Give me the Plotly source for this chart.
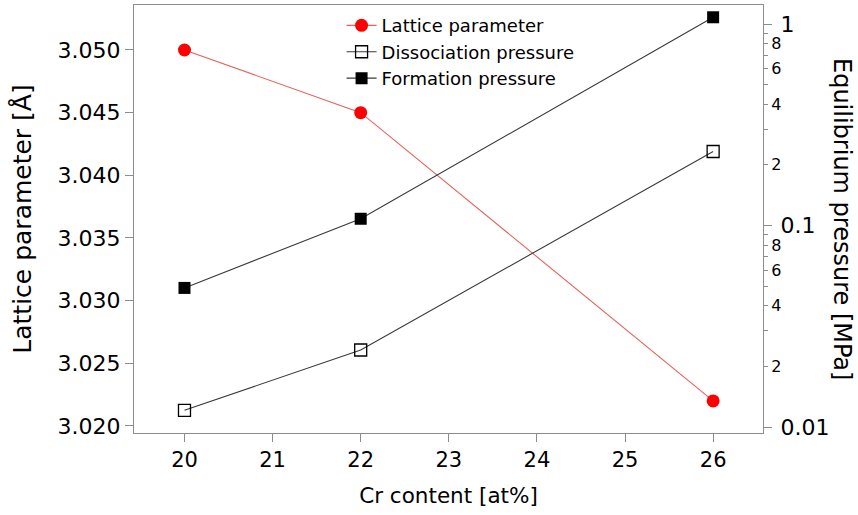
import plotly.graph_objects as go

# Composition (Cr content, at%)
cr_content = [20, 22, 26]

# Lattice parameter [Å]
lattice_param = [3.050, 3.045, 3.022]

# Equilibrium pressures [MPa]
dissociation_p = [0.0121, 0.0241, 0.233]
formation_p = [0.049, 0.108, 1.08]

# Axis ticks
x_ticks = [20, 21, 22, 23, 24, 25, 26]
lattice_ticks = [3.020, 3.025, 3.030, 3.035, 3.040, 3.045, 3.050]
pressure_major = [0.01, 0.1, 1]
pressure_major_text = ["0.01", "0.1", "1"]
pressure_minor = [0.02, 0.03, 0.04, 0.05, 0.06, 0.07, 0.08, 0.09,
                  0.2, 0.3, 0.4, 0.5, 0.6, 0.7, 0.8, 0.9]
pressure_minor_text = ["2", "", "4", "", "6", "", "8", "",
                       "2", "", "4", "", "6", "", "8", ""]

FONT = "DejaVu Sans"
AXIS_GRAY = "#8c8c8c"
LOG_RANGE = [-2.0298, 0.0943]

fig = go.Figure()

fig.add_trace(go.Scatter(
    x=cr_content, y=lattice_param, name="Lattice parameter",
    mode="lines+markers", yaxis="y",
    line=dict(color="#e8605a", width=1.1),
    marker=dict(symbol="circle", size=13, color="#ff0000"),
))
fig.add_trace(go.Scatter(
    x=cr_content, y=dissociation_p, name="Dissociation pressure",
    mode="lines+markers", yaxis="y2",
    line=dict(color="#3a3a3a", width=1.1),
    marker=dict(symbol="square-open", size=12, color="#000000",
                line=dict(width=1.3, color="#000000")),
))
fig.add_trace(go.Scatter(
    x=cr_content, y=formation_p, name="Formation pressure",
    mode="lines+markers", yaxis="y2",
    line=dict(color="#3a3a3a", width=1.1),
    marker=dict(symbol="square", size=12, color="#000000"),
))
# Transparent copy on the minor-tick pressure axis so that axis is drawn
fig.add_trace(go.Scatter(
    x=cr_content, y=formation_p, yaxis="y3", mode="lines",
    opacity=0, showlegend=False, hoverinfo="skip",
))

fig.update_layout(
    width=858, height=515,
    margin=dict(l=134, r=95, t=5, b=82),
    paper_bgcolor="white", plot_bgcolor="white",
    font=dict(family=FONT, color="black"),
    showlegend=True,
    legend=dict(
        x=0.33, y=0.995, xanchor="left", yanchor="top",
        bgcolor="rgba(0,0,0,0)", font=dict(size=18, family=FONT),
        tracegroupgap=0, itemwidth=30,
    ),
    xaxis=dict(
        range=[19.427, 26.566], tickvals=x_ticks,
        showline=True, linecolor=AXIS_GRAY, linewidth=1.3, mirror=True,
        ticks="outside", ticklen=8, tickcolor=AXIS_GRAY, tickwidth=1.2,
        tickfont=dict(size=21), showgrid=False, zeroline=False,
        title=dict(text="Cr content [at%]", font=dict(size=21.5), standoff=16),
    ),
    yaxis=dict(
        range=[3.01944, 3.05359], tickvals=lattice_ticks, tickformat=".3f",
        showline=True, linecolor=AXIS_GRAY, linewidth=1.3,
        ticks="outside", ticklen=8, tickcolor=AXIS_GRAY, tickwidth=1.2,
        tickfont=dict(size=22), showgrid=False, zeroline=False,
        title=dict(text="Lattice parameter [Å]", font=dict(size=25), standoff=18),
    ),
    yaxis2=dict(
        type="log", range=LOG_RANGE, overlaying="y", side="right",
        tickvals=pressure_major, ticktext=pressure_major_text,
        showline=True, linecolor=AXIS_GRAY, linewidth=1.3,
        ticks="outside", ticklen=8, tickcolor=AXIS_GRAY, tickwidth=1.2,
        tickfont=dict(size=22), ticklabelstandoff=4,
        showgrid=False, zeroline=False,
    ),
    yaxis3=dict(
        type="log", range=LOG_RANGE, overlaying="y", side="right",
        tickvals=pressure_minor, ticktext=pressure_minor_text,
        showline=False,
        ticks="outside", ticklen=4, tickcolor=AXIS_GRAY, tickwidth=1.2,
        tickfont=dict(size=16), showgrid=False, zeroline=False,
    ),
    annotations=[dict(
        text="Equilibrium pressure [MPa]", textangle=90,
        xref="paper", yref="paper", x=1.0 + (842 - 763) / 629, y=0.5,
        xanchor="center", yanchor="middle", showarrow=False,
        font=dict(size=24, family=FONT),
    )],
)

fig.write_html("out.html")
